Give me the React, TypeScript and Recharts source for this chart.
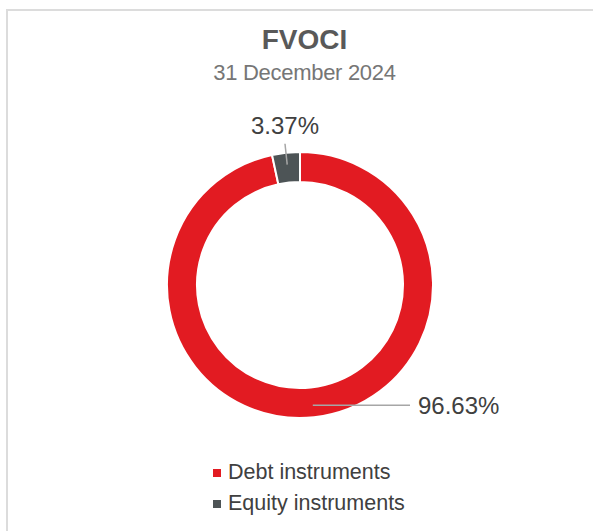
import { PieChart, Pie, Cell, Legend } from 'recharts';

const categories = ['Debt instruments', 'Equity instruments'];
const shares = [96.63, 3.37];
const colors = ['#E21B22', '#4D5456'];

const chartData = categories.map((name, i) => ({ name, value: shares[i] }));

const RADIAN = Math.PI / 180;
const FONT = '"Liberation Sans", Arial, sans-serif';

// draws the leader line plus the percent text for each slice
function renderLabel(props: any) {
  const { cx, cy, midAngle, outerRadius, index, value } = props;
  const r = outerRadius - 12;
  const x = cx + r * Math.cos(-midAngle * RADIAN);
  const y = cy + r * Math.sin(-midAngle * RADIAN);
  const text = `${value.toFixed(2)}%`;

  if (index === 0) {
    const endX = cx + 110;
    return (
      <g key={`lbl-${index}`}>
        <line x1={x} y1={y} x2={endX} y2={y} stroke="#A6A6A6" strokeWidth={1.5} />
        <text x={endX + 8} y={y} dy="0.35em" textAnchor="start" fill="#404040" fontSize={24} fontFamily={FONT}>
          {text}
        </text>
      </g>
    );
  }

  const r2 = outerRadius + 9;
  const x2 = cx + r2 * Math.cos(-midAngle * RADIAN);
  const y2 = cy + r2 * Math.sin(-midAngle * RADIAN);
  return (
    <g key={`lbl-${index}`}>
      <line x1={x} y1={y} x2={x2} y2={y2} stroke="#A6A6A6" strokeWidth={1.5} />
      <text x={x2} y={cy - outerRadius - 26} dy="0.35em" textAnchor="middle" fill="#404040" fontSize={24} fontFamily={FONT}>
        {text}
      </text>
    </g>
  );
}

function LegendBox() {
  return (
    <div style={{ fontFamily: FONT, fontSize: 21.5, color: '#404040' }}>
      {chartData.map((d, i) => (
        <div key={d.name} style={{ display: 'flex', alignItems: 'center', height: 31 }}>
          <span style={{ display: 'inline-block', width: 8, height: 8, background: colors[i], marginRight: 7 }} />
          <span>{d.name}</span>
        </div>
      ))}
    </div>
  );
}

export default function App() {
  return (
    <div style={{ position: 'absolute', left: 0, top: 0, width: 593, height: 531, background: '#fff', overflow: 'hidden' }}>
      <div
        style={{
          position: 'absolute',
          left: 6,
          top: 9,
          width: 600,
          height: 540,
          borderTop: '2px solid #DCDCDC',
          borderLeft: '2px solid #DCDCDC',
        }}
      />
      <div style={{ position: 'absolute', top: 24, width: 593, textAlign: 'center', fontFamily: FONT, fontWeight: 'bold', fontSize: 28, color: '#595959' }}>
        <span style={{ marginLeft: 16 }}>FVOCI</span>
      </div>
      <div style={{ position: 'absolute', top: 60, width: 593, textAlign: 'center', fontFamily: FONT, fontSize: 22, color: '#767676' }}>
        <span style={{ marginLeft: 16, letterSpacing: -0.3 }}>31 December 2024</span>
      </div>
      <div style={{ position: 'absolute', left: 0, top: 0 }}>
        <PieChart width={593} height={531}>
          <Pie
            data={chartData}
            dataKey="value"
            nameKey="name"
            cx={295}
            cy={280}
            innerRadius={103}
            outerRadius={133}
            startAngle={90}
            endAngle={-270}
            stroke="#FFFFFF"
            strokeWidth={2}
            label={renderLabel}
            labelLine={false}
            isAnimationActive={false}
          >
            {chartData.map((d, i) => (
              <Cell key={d.name} fill={colors[i]} />
            ))}
          </Pie>
          <Legend
            content={<LegendBox />}
            wrapperStyle={{ position: 'absolute', left: 213, top: 457, width: 'auto' }}
          />
        </PieChart>
      </div>
    </div>
  );
}
